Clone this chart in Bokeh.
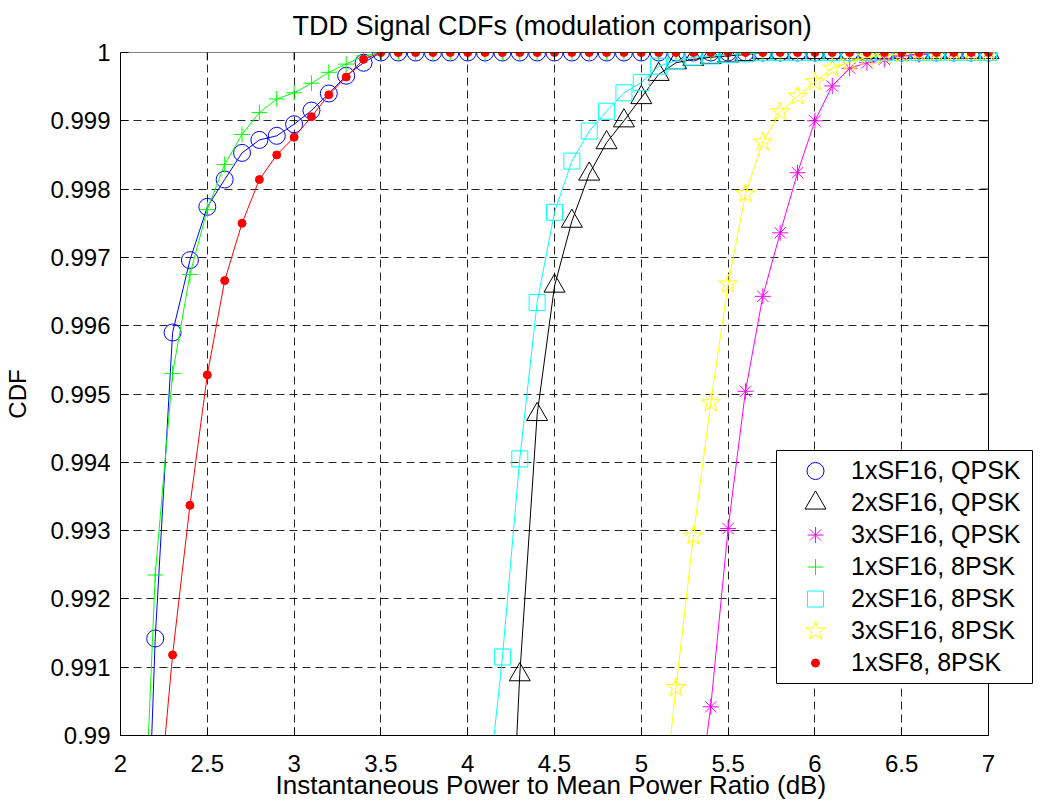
import math
from bokeh.plotting import figure
from bokeh.models import Range1d, FixedTicker, Legend, LegendItem, BoxAnnotation, Title
from bokeh.embed import file_html
from bokeh.resources import INLINE

TITLE = "TDD Signal CDFs (modulation comparison)"
X_LABEL = "Instantaneous Power to Mean Power Ratio (dB)"
Y_LABEL = "CDF"

X_MIN, X_MAX = 2, 7
Y_MIN, Y_MAX = 0.99, 1.0
X_TICKS = [2, 2.5, 3, 3.5, 4, 4.5, 5, 5.5, 6, 6.5, 7]
X_TICK_LABELS = ["2", "2.5", "3", "3.5", "4", "4.5", "5", "5.5", "6", "6.5", "7"]
Y_TICKS = [0.99, 0.991, 0.992, 0.993, 0.994, 0.995, 0.996, 0.997, 0.998, 0.999, 1.0]
Y_TICK_LABELS = ["0.99", "0.991", "0.992", "0.993", "0.994", "0.995", "0.996",
                 "0.997", "0.998", "0.999", "1"]

# sample positions (dB), 2.1 .. 7.0
X_ALL = [2.1, 2.2, 2.3, 2.4, 2.5, 2.6, 2.7, 2.8, 2.9, 3.0,
         3.1, 3.2, 3.3, 3.4, 3.5, 3.6, 3.7, 3.8, 3.9, 4.0,
         4.1, 4.2, 4.3, 4.4, 4.5, 4.6, 4.7, 4.8, 4.9, 5.0,
         5.1, 5.2, 5.3, 5.4, 5.5, 5.6, 5.7, 5.8, 5.9, 6.0,
         6.1, 6.2, 6.3, 6.4, 6.5, 6.6, 6.7, 6.8, 6.9, 7.0]

# 1xSF16, QPSK  (from 2.1 dB)
cdf_1sf16_qpsk = [0.98432, 0.99142, 0.99590, 0.99696, 0.99774, 0.99814, 0.99853, 0.99872, 0.99878, 0.99895,
                  0.99915, 0.99940, 0.99966, 0.99985, 1.0, 1.0, 1.0, 1.0, 1.0, 1.0,
                  1.0, 1.0, 1.0, 1.0, 1.0, 1.0, 1.0, 1.0, 1.0, 1.0,
                  1.0, 1.0, 1.0, 1.0, 1.0, 1.0, 1.0, 1.0, 1.0, 1.0,
                  1.0, 1.0, 1.0, 1.0, 1.0, 1.0, 1.0, 1.0, 1.0, 1.0]
# 2xSF16, QPSK  (from 4.2 dB)
cdf_2sf16_qpsk = [0.98565, 0.99089, 0.99470, 0.99658, 0.99753, 0.99822, 0.99868, 0.99900, 0.99934,
                  0.99968, 0.99985, 0.99990, 0.99993, 0.99995, 0.99997, 1.0, 1.0, 1.0, 1.0,
                  1.0, 1.0, 1.0, 1.0, 1.0, 1.0, 1.0, 1.0, 1.0, 1.0]
# 3xSF16, QPSK  (from 5.3 dB)
cdf_3sf16_qpsk = [0.98852, 0.99042, 0.99303, 0.99504, 0.99643, 0.99736, 0.99824, 0.99900,
                  0.99951, 0.99977, 0.99985, 0.99990, 0.99995, 0.99997, 1.0, 1.0, 1.0, 1.0]
# 1xSF16, 8PSK  (from 2.1 dB)
cdf_1sf16_8psk = [0.98633, 0.99235, 0.99530, 0.99675, 0.99770, 0.99836, 0.99880, 0.99912, 0.99932, 0.99941,
                  0.99955, 0.99971, 0.99983, 0.99995, 1.0, 1.0, 1.0, 1.0, 1.0, 1.0,
                  1.0, 1.0, 1.0, 1.0, 1.0, 1.0, 1.0, 1.0, 1.0, 1.0,
                  1.0, 1.0, 1.0, 1.0, 1.0, 1.0, 1.0, 1.0, 1.0, 1.0,
                  1.0, 1.0, 1.0, 1.0, 1.0, 1.0, 1.0, 1.0, 1.0, 1.0]
# 2xSF16, 8PSK  (from 4.1 dB)
cdf_2sf16_8psk = [0.98875, 0.99115, 0.99405, 0.99634, 0.99766, 0.99841, 0.99885, 0.99914, 0.99941, 0.99956,
                  0.99980, 0.99988, 0.99993, 0.99995, 0.99997, 0.99998, 1.0, 1.0, 1.0, 1.0,
                  1.0, 1.0, 1.0, 1.0, 1.0, 1.0, 1.0, 1.0, 1.0, 1.0]
# 3xSF16, 8PSK  (from 5.1 dB)
cdf_3sf16_8psk = [0.98837, 0.99070, 0.99292, 0.99487, 0.99661, 0.99793, 0.99869, 0.99913, 0.99936, 0.99957,
                  0.99977, 0.99986, 0.99993, 0.99996, 0.99998, 1.0, 1.0, 1.0, 1.0, 1.0]
# 1xSF8, 8PSK  (from 2.2 dB)
cdf_1sf8_8psk = [0.98838, 0.99118, 0.99337, 0.99528, 0.99666, 0.99750, 0.99814, 0.99850, 0.99876,
                 0.99906, 0.99938, 0.99964, 0.99990, 1.0, 1.0, 1.0, 1.0, 1.0, 1.0,
                 1.0, 1.0, 1.0, 1.0, 1.0, 1.0, 1.0, 1.0, 1.0, 1.0,
                 1.0, 1.0, 1.0, 1.0, 1.0, 1.0, 1.0, 1.0, 1.0, 1.0,
                 1.0, 1.0, 1.0, 1.0, 1.0, 1.0, 1.0, 1.0, 1.0, 1.0]

SERIES = [
    ("1xSF16, QPSK", X_ALL[0:], cdf_1sf16_qpsk, "#0000ff", "circle", 17, False),
    ("2xSF16, QPSK", X_ALL[21:], cdf_2sf16_qpsk, "#000000", "triangle", 21, False),
    ("3xSF16, QPSK", X_ALL[32:], cdf_3sf16_qpsk, "#ff00ff", "asterisk", 16, False),
    ("1xSF16, 8PSK", X_ALL[0:], cdf_1sf16_8psk, "#00ff00", "cross", 16, False),
    ("2xSF16, 8PSK", X_ALL[20:], cdf_2sf16_8psk, "#00ffff", "square", 16, False),
    ("3xSF16, 8PSK", X_ALL[30:], cdf_3sf16_8psk, "#ffff00", "star", 20, False),
    ("1xSF8, 8PSK", X_ALL[1:], cdf_1sf8_8psk, "#ff0000", "circle", 8, True),
]

FONT = "Liberation Sans"

# ---- layout (pixels) ----
LEFT, TOP, BOTTOM = 120, 52, 70
PX_X = 173.6                    # pixels per dB between 2 and 7
FRAME_W = 914                   # frame runs past x = 7 so the legend may overhang the border
FRAME_H = 683
X_END = X_MIN + FRAME_W / PX_X
PX_Y = FRAME_H / (Y_MAX - Y_MIN)

p = figure(frame_width=FRAME_W, frame_height=FRAME_H,
           x_range=Range1d(X_MIN, X_END), y_range=Range1d(Y_MIN, Y_MAX),
           output_backend="svg", toolbar_location=None, title=TITLE,
           min_border_left=LEFT, min_border_right=0, min_border_top=TOP, min_border_bottom=BOTTOM)

p.title.text_font = FONT
p.title.text_font_size = "27px"
p.title.text_font_style = "normal"
p.title.align = "left"
p.title.offset = 172
p.title.vertical_align = "top"
p.title.text_color = "black"
p.title.standoff = 20

p.outline_line_color = None
p.background_fill_color = "white"
p.border_fill_color = "white"

xt = FixedTicker(ticks=X_TICKS)
yt = FixedTicker(ticks=Y_TICKS)

for ax in (p.xaxis[0], p.yaxis[0]):
    ax.axis_line_color = "black"
    ax.major_tick_line_color = "black"
    ax.major_tick_in = 8
    ax.major_tick_out = 0
    ax.minor_tick_line_color = None
    ax.major_label_text_font = FONT
    ax.major_label_text_font_size = "24px"
    ax.major_label_text_color = "black"
    ax.axis_label_text_font = FONT
    ax.axis_label_text_font_style = "normal"
    ax.axis_label_text_color = "black"

p.xaxis[0].ticker = xt
p.yaxis[0].ticker = yt
p.xaxis[0].bounds = (X_MIN, X_MAX)
p.xaxis[0].major_label_overrides = dict(zip(X_TICKS, X_TICK_LABELS))
p.yaxis[0].major_label_overrides = dict(zip(Y_TICKS, Y_TICK_LABELS))
p.yaxis[0].axis_label = Y_LABEL
p.yaxis[0].axis_label_text_font_size = "24px"
p.xaxis[0].major_label_standoff = 19
p.yaxis[0].major_label_standoff = 10
p.yaxis[0].axis_label_standoff = 16

# x-axis label as a title below the axis, centred under the 2..7 span
p.add_layout(Title(text=X_LABEL, align="left", offset=155, vertical_align="top",
                   standoff=-9, text_font=FONT, text_font_size="26px",
                   text_font_style="normal", text_color="black"), "below")

p.grid.grid_line_color = "black"
p.grid.grid_line_alpha = 0.85
p.grid.grid_line_dash = "8 5"
p.grid.grid_line_width = 1
p.xgrid.ticker = xt
p.ygrid.ticker = yt

# blank out the strip right of x = 7 (beneath the data)
p.add_layout(BoxAnnotation(left=X_MAX, fill_color="white", fill_alpha=1.0,
                           line_color=None, level="underlay"))

for label, xs, ys, color, marker, size, filled in SERIES:
    p.line(xs, ys, line_color=color, line_width=1)
    p.scatter(xs, ys, marker=marker, size=size, line_color=color, line_width=1,
              fill_color=color if filled else None)

# box: right border at x = 7, top border at y = 1, inward ticks on top / right
p.segment(x0=[X_MAX], y0=[Y_MIN], x1=[X_MAX], y1=[Y_MAX], line_color="black", line_width=1)
p.segment(x0=[X_MIN], y0=[Y_MAX], x1=[X_MAX], y1=[Y_MAX], line_color="black", line_width=1)
p.ray(x=X_TICKS, y=[Y_MAX] * len(X_TICKS), length=8, length_units="screen",
      angle=-math.pi / 2, line_color="black", line_width=1)
p.ray(x=[X_MAX] * len(Y_TICKS), y=Y_TICKS, length=8, length_units="screen",
      angle=math.pi, line_color="black", line_width=1)

# ---- legend: box and markers drawn as glyphs, labels by Bokeh's Legend ----
LEG_X, LEG_Y = 656, 52          # px from frame left / bottom
LEG_W = 256
LEG_PAD, GLYPH_W, ROW_H, ROW_GAP = 6, 66, 29, 3
n = len(SERIES)
LEG_H = 2 * LEG_PAD + n * ROW_H + (n - 1) * ROW_GAP

p.quad(left=[X_MIN + LEG_X / PX_X], right=[X_MIN + (LEG_X + LEG_W) / PX_X],
       bottom=[Y_MIN + LEG_Y / PX_Y], top=[Y_MIN + (LEG_Y + LEG_H) / PX_Y],
       fill_color="white", line_color="black", line_width=1)

gx = X_MIN + (LEG_X + LEG_PAD + GLYPH_W / 2) / PX_X
items = []
for i, (label, xs, ys, color, marker, size, filled) in enumerate(SERIES):
    gy = Y_MIN + (LEG_Y + LEG_H - LEG_PAD - i * (ROW_H + ROW_GAP) - ROW_H / 2) / PX_Y
    p.scatter(x=[gx], y=[gy], marker=marker, size=size, line_color=color, line_width=1,
              fill_color=color if filled else None)
    dummy = p.scatter(x=[], y=[], marker=marker, size=1, line_alpha=0, fill_alpha=0)
    items.append(LegendItem(label=label, renderers=[dummy]))

legend = Legend(items=items, location=(LEG_X, LEG_Y))
legend.label_text_font = FONT
legend.label_text_font_size = "25px"
legend.label_text_color = "black"
legend.border_line_alpha = 0
legend.background_fill_alpha = 0
legend.padding = LEG_PAD
legend.spacing = ROW_GAP
legend.glyph_width = GLYPH_W
legend.glyph_height = ROW_H
legend.label_height = ROW_H
legend.label_standoff = 3
legend.margin = 0
p.add_layout(legend)

open("out.html", "w").write(file_html(p, INLINE))
